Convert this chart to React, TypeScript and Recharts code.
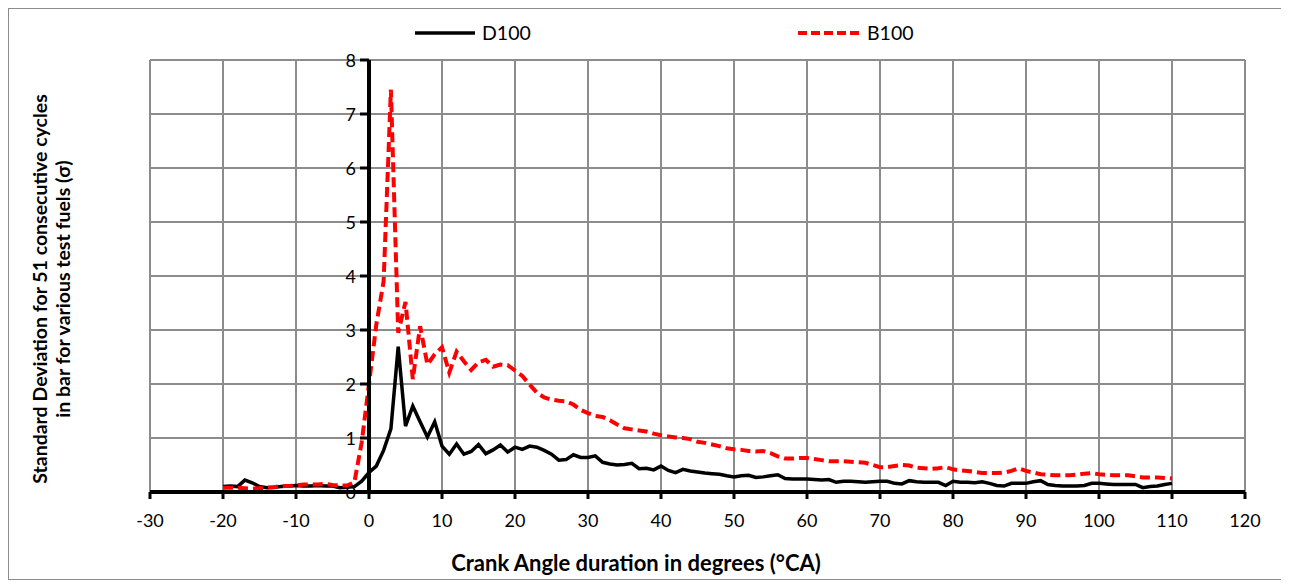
import React from 'react';
import { LineChart, Line, XAxis, YAxis, CartesianGrid, ReferenceLine, ReferenceDot } from 'recharts';

// crank angle, 1 deg steps from -20 to 110
const angles: number[] = Array.from({ length: 131 }, (_, i) => i - 20);

const d100 = [
  0.10, 0.11, 0.10, 0.22, 0.17, 0.10, 0.08, 0.09, 0.10, 0.11,
  0.12, 0.11, 0.11, 0.12, 0.11, 0.11, 0.08, 0.09, 0.10, 0.20,
  0.36, 0.48, 0.77, 1.17, 2.69, 1.22, 1.59, 1.30, 1.02, 1.30,
  0.85, 0.70, 0.89, 0.70, 0.75, 0.88, 0.71, 0.78, 0.87, 0.74,
  0.83, 0.79, 0.85, 0.83, 0.77, 0.70, 0.59, 0.60, 0.69, 0.64,
  0.64, 0.67, 0.55, 0.52, 0.50, 0.51, 0.53, 0.43, 0.44, 0.41,
  0.48, 0.40, 0.36, 0.42, 0.39, 0.37, 0.35, 0.34, 0.33, 0.30,
  0.28, 0.30, 0.31, 0.27, 0.28, 0.30, 0.32, 0.25, 0.24, 0.24,
  0.24, 0.23, 0.22, 0.23, 0.18, 0.20, 0.20, 0.19, 0.18, 0.19,
  0.20, 0.20, 0.16, 0.15, 0.21, 0.19, 0.18, 0.18, 0.18, 0.12,
  0.20, 0.18, 0.18, 0.17, 0.19, 0.16, 0.12, 0.11, 0.16, 0.16,
  0.16, 0.19, 0.21, 0.14, 0.12, 0.11, 0.11, 0.11, 0.12, 0.16,
  0.16, 0.15, 0.14, 0.14, 0.14, 0.14, 0.08, 0.10, 0.11, 0.14,
  0.16,
];

const b100 = [
  0.08, 0.08, 0.08, 0.07, 0.06, 0.07, 0.08, 0.09, 0.11, 0.11,
  0.12, 0.14, 0.14, 0.14, 0.15, 0.13, 0.12, 0.12, 0.18, 0.92,
  2.00, 3.10, 3.90, 7.45, 2.95, 3.52, 2.09, 3.07, 2.36, 2.55,
  2.68, 2.21, 2.60, 2.42, 2.26, 2.40, 2.45, 2.32, 2.36, 2.35,
  2.25, 2.15, 1.99, 1.84, 1.75, 1.71, 1.69, 1.68, 1.62, 1.52,
  1.46, 1.41, 1.39, 1.33, 1.25, 1.18, 1.16, 1.14, 1.12, 1.08,
  1.05, 1.03, 1.01, 1.00, 0.98, 0.93, 0.91, 0.88, 0.85, 0.81,
  0.79, 0.78, 0.76, 0.75, 0.76, 0.72, 0.66, 0.62, 0.62, 0.63,
  0.63, 0.61, 0.59, 0.57, 0.57, 0.57, 0.56, 0.55, 0.54, 0.50,
  0.46, 0.46, 0.48, 0.50, 0.49, 0.45, 0.44, 0.43, 0.44, 0.46,
  0.42, 0.40, 0.39, 0.37, 0.35, 0.35, 0.35, 0.36, 0.39, 0.44,
  0.39, 0.36, 0.33, 0.32, 0.31, 0.31, 0.31, 0.32, 0.34, 0.35,
  0.33, 0.32, 0.31, 0.31, 0.31, 0.29, 0.27, 0.27, 0.27, 0.26,
  0.25,
];

const xTicks = [-30, -20, -10, 0, 10, 20, 30, 40, 50, 60, 70, 80, 90, 100, 110, 120];
const yTicks = [0, 1, 2, 3, 4, 5, 6, 7, 8];

const data = angles.map((a, i) => ({ angle: a, d100: d100[i], b100: b100[i] }));

const FONT = 'Lato, "Open Sans", sans-serif';
const GRID = '#8c8c8c';

const App = () => {
  return (
    <div style={{ position: 'relative', width: 1275, height: 570, border: '1px solid ' + GRID, background: '#fff', fontFamily: FONT }}>
      <LineChart width={1275} height={570} data={data} margin={{ top: 51, right: 39, bottom: 47, left: 101 }}>
        <CartesianGrid stroke={GRID} strokeWidth={2} />
        <XAxis
          dataKey="angle"
          type="number"
          domain={[-30, 120]}
          ticks={xTicks}
          interval={0}
          height={40}
          axisLine={{ stroke: '#000', strokeWidth: 4 }}
          tickLine={{ stroke: '#000', strokeWidth: 3 }}
          tickSize={7}
          tickMargin={15}
          tick={{ fill: '#000', fontSize: 18, fontFamily: FONT }}
        />
        <YAxis
          type="number"
          domain={[0, 8]}
          ticks={yTicks}
          interval={0}
          width={40}
          axisLine={false}
          tickLine={false}
          tick={{ fill: '#ffffff', fontSize: 12 }}
        />
        <Line type="linear" dataKey="d100" stroke="#000" strokeWidth={3.5} dot={false} isAnimationActive={false} />
        <Line type="linear" dataKey="b100" stroke="#ff0000" strokeWidth={4} strokeDasharray="10 5" dot={false} isAnimationActive={false} />
        <ReferenceLine x={0} stroke="#000" strokeWidth={4} />
        {yTicks.map((v) => (
          <ReferenceDot
            key={v}
            x={0}
            y={v}
            r={0}
            shape={(p: any) => (
              <g>
                <line x1={p.cx - 9} x2={p.cx} y1={p.cy} y2={p.cy} stroke="#000" strokeWidth={3} />
                <text x={p.cx - 13} y={p.cy} textAnchor="end" dominantBaseline="central" fontSize={18} fontFamily={FONT} fill="#000">
                  {v}
                </text>
              </g>
            )}
          />
        ))}
      </LineChart>

      {/* legend */}
      <div style={{ position: 'absolute', left: 405, top: 12, display: 'flex', alignItems: 'center', fontSize: 19.5, color: '#000' }}>
        <svg width={62} height={10}><line x1={1} x2={61} y1={5} y2={5} stroke="#000" strokeWidth={3.5} /></svg>
        <span style={{ marginLeft: 6 }}>D100</span>
      </div>
      <div style={{ position: 'absolute', left: 788, top: 12, display: 'flex', alignItems: 'center', fontSize: 19.5, color: '#000' }}>
        <svg width={64} height={10}><line x1={1} x2={63} y1={5} y2={5} stroke="#ff0000" strokeWidth={4} strokeDasharray="9 4" /></svg>
        <span style={{ marginLeft: 6 }}>B100</span>
      </div>

      <div style={{ position: 'absolute', left: 42, top: 280, width: 0, height: 0 }}>
        <div
          style={{
            position: 'absolute', transform: 'translate(-50%, -50%) rotate(-90deg)', whiteSpace: 'nowrap',
            fontWeight: 700, fontSize: 19.5, lineHeight: '23px', textAlign: 'center', color: '#000',
          }}
        >
          Standard Deviation for 51 consecutive cycles
          <br />
          in bar for various test fuels (σ)
        </div>
      </div>
      <div style={{ position: 'absolute', left: 627, top: 540, transform: 'translateX(-50%)', whiteSpace: 'nowrap', fontWeight: 700, fontSize: 22, color: '#000' }}>
        Crank Angle duration in degrees (°CA)
      </div>
    </div>
  );
};

export default App;
